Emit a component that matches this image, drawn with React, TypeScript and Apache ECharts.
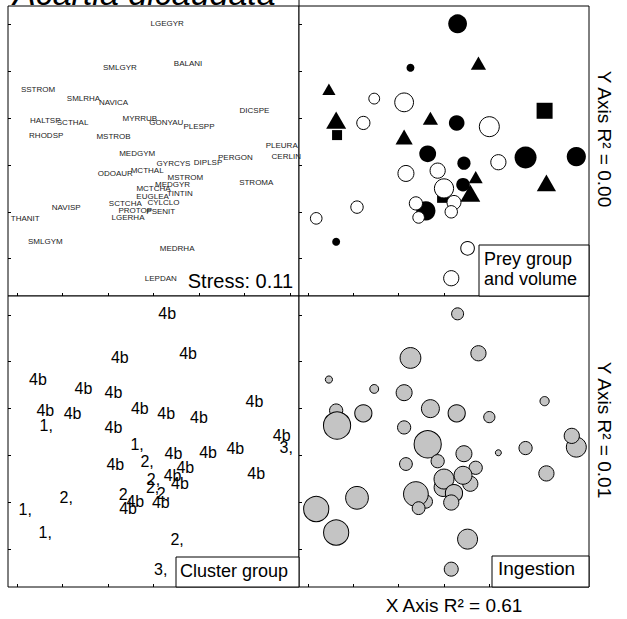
import React, { useEffect, useRef } from "react";
import * as echarts from "echarts";

// NMDS ordination of prey taxa (shared coordinates for all four panels)
const species = [
  "LGEGYR", "SMLGYR", "BALANI", "SSTROM", "SMLRHA", "NAVICA", "DICSPE", "HALTSP",
  "RHODSP", "SCTHAL", "MYRRUB", "GONYAU", "PLESPP", "MSTROB", "CERLIN", "PLEURA",
  "MEDGYM", "GYRCYS", "DIPLSP", "PERGON", "ODOAUR", "MCTHAL", "MSTROM", "TINTIN",
  "MEDGYR", "EUGLEA", "MCTCHA", "STROMA", "PROTOP", "SCTCHA", "LGERHA", "CYLCLO",
  "PSENIT", "NAVISP", "THANIT", "SMLGYM", "MEDRHA", "LEPDAN",
];
const nmdsX = [
  0.15, -0.37, 0.38, -1.27, -0.77, -0.44, 1.11, -1.19,
  -1.18, -0.89, -0.15, 0.14, 0.5, -0.44, 1.46, 1.41,
  -0.18, 0.22, 0.6, 0.9, -0.42, -0.07, 0.35, 0.29,
  0.21, -0.01, 0.0, 1.13, -0.2, -0.31, -0.28, 0.11,
  0.08, -0.96, -1.41, -1.19, 0.26, 0.08,
];
const nmdsY = [
  1.26, 0.79, 0.84, 0.56, 0.46, 0.42, 0.33, 0.23,
  0.07, 0.2, 0.25, 0.2, 0.16, 0.05, -0.16, -0.04,
  -0.13, -0.23, -0.22, -0.17, -0.34, -0.31, -0.38, -0.55,
  -0.46, -0.59, -0.5, -0.44, -0.74, -0.66, -0.81, -0.65,
  -0.75, -0.7, -0.82, -1.07, -1.14, -1.46,
];
const preyGroup = [
  "Dinoflagellate", "Dinoflagellate", "Ciliate", "Ciliate", "Diatom", "Diatom", "Other", "Ciliate",
  "Other", "Diatom", "Ciliate", "Dinoflagellate", "Diatom", "Ciliate", "Dinoflagellate", "",
  "Dinoflagellate", "Dinoflagellate", "Diatom", "Dinoflagellate", "Diatom", "Diatom", "Ciliate", "Ciliate",
  "Dinoflagellate", "Other", "Diatom", "Ciliate", "Dinoflagellate", "Diatom", "Diatom", "Diatom",
  "Diatom", "Diatom", "Diatom", "Dinoflagellate", "Diatom", "Diatom",
];
const preyVolume = [
  4.7, 2.0, 3.8, 3.3, 2.7, 4.7, 4.0, 5.0,
  2.5, 3.3, 3.8, 3.9, 5.0, 4.3, 4.8, 0,
  4.2, 3.3, 3.8, 5.5, 4.0, 3.8, 3.5, 5.0,
  3.4, 3.0, 4.8, 4.8, 4.8, 3.3, 2.9, 3.5,
  3.1, 3.1, 2.9, 2.0, 3.4, 3.8,
];
const clusterGroup = [
  "4b", "4b", "4b", "4b", "4b", "4b", "4b", "4b",
  "1,", "4b", "4b", "4b", "4b", "4b", "3,", "4b",
  "1,", "4b", "4b", "4b", "4b", "2,", "4b", "4b",
  "4b", "2,", "2,", "4b", "4b", "2,", "4b", "2,",
  "4b", "2,", "1,", "1,", "2,", "3,",
];
const ingestion = [
  3.0, 5.2, 3.8, 1.8, 2.2, 4.0, 2.3, 3.3,
  6.8, 4.3, 4.5, 4.3, 2.8, 3.3, 5.0, 3.8,
  6.8, 4.0, 1.5, 3.3, 3.2, 3.3, 3.3, 3.8,
  4.5, 4.5, 5.0, 3.8, 3.3, 6.2, 3.2, 4.3,
  3.8, 5.7, 6.3, 6.3, 5.0, 3.5,
];
const xTicks = [-1.5, -1, -0.5, 0, 0.5, 1, 1.5];
const yTicks = [-1.25, -0.75, -0.25, 0.25, 0.75, 1.25];

const FONT = '"Liberation Sans", Arial, Helvetica, sans-serif';
const SIZE_SCALE = 4;

const panels = [
  { left: 8, top: 6, width: 291, height: 290 },
  { left: 299, top: 6, width: 290, height: 290 },
  { left: 8, top: 296, width: 291, height: 291 },
  { left: 299, top: 296, width: 290, height: 291 },
];

function buildOption() {
  const grid = panels.map((p) => ({
    ...p,
    show: true,
    borderColor: "#000",
    borderWidth: 1,
    backgroundColor: "#fff",
    containLabel: false,
  }));
  const xAxis = panels.map((_, i) => ({
    gridIndex: i,
    type: "value",
    position: "bottom",
    min: -1.6,
    max: 1.6,
    axisLine: { show: false, onZero: false },
    axisTick: { show: true, inside: true, length: 3, customValues: xTicks, lineStyle: { color: "#000" } },
    axisLabel: { show: false },
    splitLine: { show: false },
  }));
  const yAxis = panels.map((_, i) => ({
    gridIndex: i,
    type: "value",
    position: "left",
    min: -1.65,
    max: 1.45,
    axisLine: { show: false, onZero: false },
    axisTick: { show: true, inside: true, length: 3, customValues: yTicks, lineStyle: { color: "#000" } },
    axisLabel: { show: false },
    splitLine: { show: false },
  }));

  const idx = species.map((_, i) => i);
  const pick = (g: string) =>
    idx.filter((i) => preyGroup[i] === g).map((i) => [nmdsX[i], nmdsY[i], preyVolume[i]]);

  const series: any[] = [
    // species codes
    {
      type: "scatter",
      xAxisIndex: 0,
      yAxisIndex: 0,
      symbolSize: 1,
      itemStyle: { color: "rgba(0,0,0,0)" },
      data: idx.map((i) => [nmdsX[i], nmdsY[i], species[i]]),
      label: {
        show: true,
        position: "inside",
        formatter: (p: any) => p.value[2],
        fontSize: 8,
        fontFamily: FONT,
        color: "#222",
        opacity: 1,
      },
    },
    // prey group and volume
    {
      type: "scatter",
      xAxisIndex: 1,
      yAxisIndex: 1,
      symbol: "circle",
      symbolSize: (v: number[]) => v[2] * SIZE_SCALE,
      itemStyle: { color: "#000", opacity: 1 },
      data: pick("Dinoflagellate"),
    },
    {
      type: "scatter",
      xAxisIndex: 1,
      yAxisIndex: 1,
      symbol: "triangle",
      symbolSize: (v: number[]) => [v[2] * SIZE_SCALE, v[2] * SIZE_SCALE * 0.87],
      itemStyle: { color: "#000", opacity: 1 },
      data: pick("Ciliate"),
    },
    {
      type: "scatter",
      xAxisIndex: 1,
      yAxisIndex: 1,
      symbol: "rect",
      symbolSize: (v: number[]) => v[2] * SIZE_SCALE,
      itemStyle: { color: "#000", opacity: 1 },
      data: pick("Other"),
    },
    {
      type: "scatter",
      xAxisIndex: 1,
      yAxisIndex: 1,
      symbol: "circle",
      symbolSize: (v: number[]) => v[2] * SIZE_SCALE,
      itemStyle: { color: "#fff", borderColor: "#000", borderWidth: 1, opacity: 1 },
      data: pick("Diatom"),
    },
    // cluster group
    {
      type: "scatter",
      xAxisIndex: 2,
      yAxisIndex: 2,
      symbolSize: 1,
      itemStyle: { color: "rgba(0,0,0,0)" },
      data: idx.map((i) => [nmdsX[i], nmdsY[i], clusterGroup[i]]),
      label: {
        show: true,
        position: "inside",
        formatter: (p: any) => p.value[2],
        fontSize: 16,
        fontFamily: FONT,
        color: "#000",
        opacity: 1,
      },
    },
    // ingestion
    {
      type: "scatter",
      xAxisIndex: 3,
      yAxisIndex: 3,
      symbol: "circle",
      symbolSize: (v: number[]) => v[2] * SIZE_SCALE,
      itemStyle: { color: "#c4c4c4", borderColor: "#000", borderWidth: 1, opacity: 1 },
      data: idx.map((i) => [nmdsX[i], nmdsY[i], ingestion[i]]),
    },
  ];
  series.forEach((s) => {
    s.silent = true;
    s.emphasis = { disabled: true };
  });

  const boxStyle = { fill: "#fff", stroke: "#000", lineWidth: 1 };
  const graphic: any[] = [
    {
      type: "text",
      x: 13,
      y: -7,
      z: 100,
      style: {
        text: "Acartia dicaudata",
        fontSize: 34,
        fontStyle: "italic",
        fontFamily: FONT,
        fill: "#000",
        align: "left",
        verticalAlign: "middle",
      },
    },
    { type: "line", z: 100, shape: { x1: 299, y1: 0, x2: 299, y2: 6 }, style: { stroke: "#000", lineWidth: 1 } },
    {
      type: "text",
      x: 293,
      y: 281,
      z: 100,
      style: { text: "Stress: 0.11", fontSize: 20, fontFamily: FONT, fill: "#000", align: "right", verticalAlign: "middle" },
    },
    { type: "rect", z: 100, shape: { x: 479, y: 245, width: 110, height: 51 }, style: boxStyle },
    {
      type: "text",
      x: 484,
      y: 269,
      z: 101,
      style: {
        text: "Prey group\nand volume",
        fontSize: 18,
        lineHeight: 20,
        fontFamily: FONT,
        fill: "#000",
        align: "left",
        verticalAlign: "middle",
      },
    },
    { type: "rect", z: 100, shape: { x: 176, y: 557, width: 123, height: 30 }, style: boxStyle },
    {
      type: "text",
      x: 180,
      y: 571,
      z: 101,
      style: { text: "Cluster group", fontSize: 18, fontFamily: FONT, fill: "#000", align: "left", verticalAlign: "middle" },
    },
    { type: "rect", z: 100, shape: { x: 492, y: 556, width: 97, height: 31 }, style: boxStyle },
    {
      type: "text",
      x: 498,
      y: 568,
      z: 101,
      style: { text: "Ingestion", fontSize: 19, fontFamily: FONT, fill: "#000", align: "left", verticalAlign: "middle" },
    },
    {
      type: "text",
      x: 454,
      y: 605,
      z: 100,
      style: { text: "X Axis R² = 0.61", fontSize: 19, fontFamily: FONT, fill: "#000", align: "center", verticalAlign: "middle" },
    },
    {
      type: "text",
      x: 604,
      y: 139,
      z: 100,
      rotation: -Math.PI / 2,
      style: { text: "Y Axis R² = 0.00", fontSize: 19, fontFamily: FONT, fill: "#000", align: "center", verticalAlign: "middle" },
    },
    {
      type: "text",
      x: 604,
      y: 430,
      z: 100,
      rotation: -Math.PI / 2,
      style: { text: "Y Axis R² = 0.01", fontSize: 19, fontFamily: FONT, fill: "#000", align: "center", verticalAlign: "middle" },
    },
  ];

  return {
    animation: false,
    backgroundColor: "#fff",
    textStyle: { fontFamily: FONT },
    grid,
    xAxis,
    yAxis,
    series,
    graphic,
  };
}

export default function App() {
  const ref = useRef<HTMLDivElement>(null);
  useEffect(() => {
    if (!ref.current) return;
    const chart = echarts.init(ref.current, undefined, { renderer: "svg" });
    chart.setOption(buildOption() as any);
    return () => chart.dispose();
  }, []);
  return (
    <div
      ref={ref}
      style={{ position: "fixed", left: 0, top: 0, width: 627, height: 619, background: "#fff" }}
    />
  );
}
